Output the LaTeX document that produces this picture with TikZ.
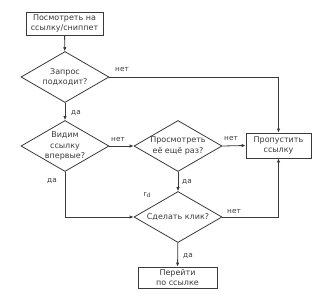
\documentclass[tikz,border=0pt]{standalone}
\usepackage{fontspec}
\setmainfont{DejaVu Sans}
\usetikzlibrary{shapes.geometric,arrows.meta}
\definecolor{ln}{HTML}{3A3A3A}
\definecolor{tx}{HTML}{3A3A3A}
\tikzset{
  x=1pt,y=-1pt,
  every node/.style={text=tx,font=\fontsize{8}{10.8}\selectfont},
  box/.style={draw=ln,line width=0.8pt,inner sep=0pt,align=center},
  dia/.style={draw=ln,line width=0.8pt,diamond,inner sep=0pt,minimum width=88pt,minimum height=51pt},
  txt/.style={align=center,inner sep=0pt},
  lab/.style={inner sep=0pt,font=\fontsize{7.3}{8}\selectfont},
  conn/.style={draw=ln,line width=0.8pt,-{Latex[length=4pt,width=3.5pt]}},
  plain/.style={draw=ln,line width=0.8pt}
}
\begin{document}
\begin{tikzpicture}
\useasboundingbox (0,0) rectangle (330,301);
\node[box,minimum width=77pt,minimum height=23pt] (b1) at (64.5,23.5) {Посмотреть на\\ссылку/сниппет};
\node[dia] (d1) at (65,77) {};
\node[txt] (d1t) at (65,77) {Запрос\\подходит?};
\node[dia] (d2) at (65,146) {};
\node[txt] (d2t) at (65,146) {Видим\\ссылку\\впервые?};
\node[dia] (d3) at (178,146) {};
\node[txt] (d3t) at (178,146) {Просмотреть\\её ещё раз?};
\node[dia] (d4) at (178,217) {};
\node[txt] (d4t) at (178,217) {Сделать клик?};
\node[box,minimum width=65pt,minimum height=25pt] (skip) at (278.5,145.5) {Пропустить\\ссылку};
\node[box,minimum width=79pt,minimum height=21pt] (b2) at (177.5,277.5) {Перейти\\по ссылке};
\coordinate (c1) at (skip.north |- d1.east);
\coordinate (c2) at (skip.south |- d4.east);
\coordinate (c3) at (d2.south |- d4.west);
\draw[conn] (b1) -- (d1);
\draw[conn] (d1) -- (d2);
\draw[conn] (d2.east) -- (d3.west);
\draw[conn] (d3.east) -- (skip.west);
\draw[conn] (d3) -- (d4);
\draw[conn] (d4) -- (b2);
\draw[conn] (d1.east) -- (c1) -- (skip.north);
\draw[conn] (d4.east) -- (c2) -- (skip.south);
\draw[conn] (d2.south) -- (c3) -- (d4.west);
\node[lab] (l1) at (122,70) {нет};
\node[lab] (l2) at (76,113) {да};
\node[lab] (l3) at (118,139.5) {нет};
\node[lab] (l4) at (231,139) {нет};
\node[lab] (l5) at (187,182) {да};
\node[lab] (l6) at (52,181) {да};
\node[lab] (l7) at (234,211.5) {нет};
\node[lab] (l8) at (188,256) {да};
\node[lab] (l9) at (147,195) {r\raisebox{-1pt}{\fontsize{6}{6}\selectfont d}};
\end{tikzpicture}
\end{document}
